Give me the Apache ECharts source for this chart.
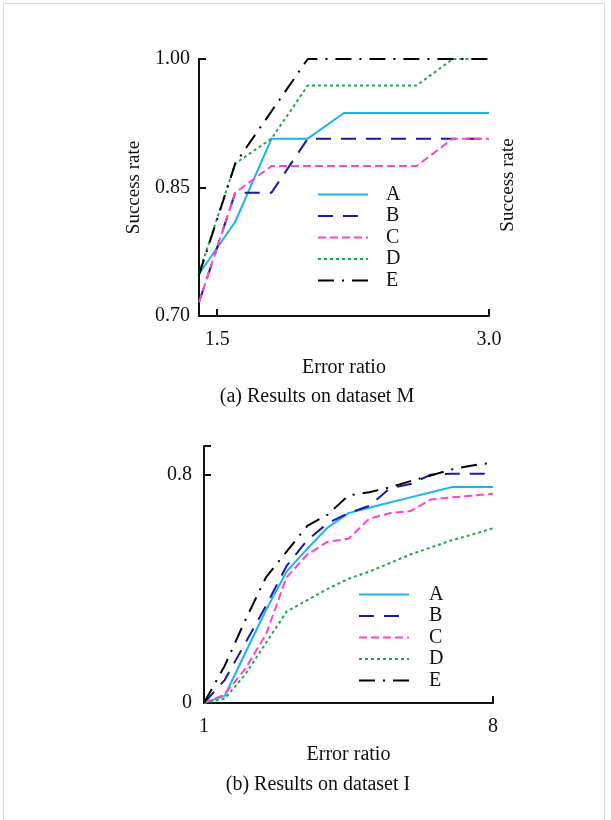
<!DOCTYPE html>
<html>
<head>
<meta charset="utf-8">
<script src="https://cdn.jsdelivr.net/npm/echarts@6/dist/echarts.min.js"></script>
<style>
  html, body { margin: 0; padding: 0; background: #fff; }
  #chart { width: 611px; height: 820px; }
</style>
</head>
<body>
<div id="chart"></div>
<script>
// (a) dataset M
const xTop = [1.4, 1.6, 1.8, 2.0, 2.2, 2.4, 2.6, 2.8, 3.0]
const aTop = [0.749, 0.810, 0.907, 0.907, 0.937, 0.937, 0.937, 0.937, 0.937]
const bTop = [0.716, 0.844, 0.844, 0.907, 0.907, 0.907, 0.907, 0.907, 0.907]
const cTop = [0.716, 0.844, 0.875, 0.875, 0.875, 0.875, 0.875, 0.907, 0.907]
const dTop = [0.750, 0.878, 0.907, 0.969, 0.969, 0.969, 0.969, 1.000, 1.000]
const eTop = [0.748, 0.878, 0.939, 1.000, 1.000, 1.000, 1.000, 1.000, 1.000]
const xTicksTop = [1.5, 3.0]
const yTicksTop = [0.70, 0.85, 1.00]

// (b) dataset I
const xBot = [1, 1.5, 2, 2.5, 3, 3.5, 4, 4.5, 5, 5.5, 6, 6.5, 7, 7.5, 8]
const aBot = [0, 0.025, 0.175, 0.325, 0.46, 0.54, 0.615, 0.665, 0.684, 0.702, 0.72, 0.738, 0.756, 0.756, 0.756]
const bBot = [0, 0.08, 0.21, 0.34, 0.48, 0.57, 0.63, 0.665, 0.69, 0.752, 0.767, 0.80, 0.803, 0.803, 0.803]
const cBot = [0, 0.03, 0.12, 0.24, 0.44, 0.52, 0.565, 0.575, 0.645, 0.665, 0.672, 0.713, 0.72, 0.726, 0.733]
const dBot = [0, 0.015, 0.10, 0.21, 0.32, 0.36, 0.40, 0.435, 0.46, 0.49, 0.52, 0.545, 0.57, 0.59, 0.612]
const eBot = [0, 0.13, 0.29, 0.44, 0.53, 0.62, 0.66, 0.727, 0.738, 0.755, 0.777, 0.797, 0.818, 0.832, 0.842]
const xTicksBot = [1, 8]
const yLabelsBot = [0, 0.8]
const yTicksBot = [0.8, 0.9]

const names = ['A', 'B', 'C', 'D', 'E']

const FONT = 'Liberation Serif'
const INK = '#111'

// 线型
const styles = {
  A: { color: '#1cb3ee', type: 'solid' },
  B: { color: '#1a1aa8', type: [15, 10] },
  C: { color: '#ff45cc', type: [8, 4] },
  D: { color: '#1caa4e', type: [3, 3] },
  E: { color: '#000000', type: [16, 8, 2, 8] }
}

const zip = (xs, ys) => xs.map((x, i) => [x, ys[i]])

const mkSeries = (name, xs, ys, idx) => ({
  name: name,
  type: 'line',
  xAxisIndex: idx,
  yAxisIndex: idx,
  symbol: 'none',
  animation: false,
  data: zip(xs, ys),
  lineStyle: { color: styles[name].color, width: 2, type: styles[name].type },
  itemStyle: { color: styles[name].color }
})

const axisLine = { show: true, onZero: false, lineStyle: { color: INK, width: 2 } }
const tick = (vals) => ({ show: true, inside: true, length: 7, customValues: vals, lineStyle: { color: INK, width: 2 } })

const legendBase = {
  data: names, orient: 'vertical', padding: 0,
  itemWidth: 50, itemHeight: 14, itemGap: 0.5,
  itemStyle: { opacity: 0 }
}

const chart = echarts.init(document.getElementById('chart'))

chart.setOption({
  backgroundColor: '#ffffff',
  textStyle: { fontFamily: FONT },
  grid: [
    { left: 199, top: 59, width: 290, height: 257 },
    { left: 204, top: 446, width: 289, height: 257 }
  ],
  xAxis: [
    {
      type: 'value', gridIndex: 0, min: 1.4, max: 3.0,
      axisLine: axisLine, axisTick: tick(xTicksTop), splitLine: { show: false },
      axisLabel: { customValues: xTicksTop, margin: 14, fontSize: 20, color: INK, fontFamily: FONT, formatter: v => v.toFixed(1) },
      name: 'Error ratio', nameLocation: 'middle', nameGap: 42,
      nameTextStyle: { fontSize: 20, color: INK, fontFamily: FONT }
    },
    {
      type: 'value', gridIndex: 1, min: 1, max: 8,
      axisLine: axisLine, axisTick: tick([8]), splitLine: { show: false },
      axisLabel: { customValues: xTicksBot, margin: 14, fontSize: 20, color: INK, fontFamily: FONT },
      name: 'Error ratio', nameLocation: 'middle', nameGap: 42,
      nameTextStyle: { fontSize: 20, color: INK, fontFamily: FONT }
    }
  ],
  yAxis: [
    {
      type: 'value', gridIndex: 0, min: 0.7, max: 1.0,
      axisLine: axisLine, axisTick: tick(yTicksTop), splitLine: { show: false },
      axisLabel: { customValues: yTicksTop, margin: 9, fontSize: 20, color: INK, fontFamily: FONT, formatter: v => v.toFixed(2) },
      name: 'Success rate', nameLocation: 'middle', nameGap: 55, nameRotate: 90,
      nameTextStyle: { fontSize: 19, color: INK, fontFamily: FONT }
    },
    {
      type: 'value', gridIndex: 1, min: 0, max: 0.9,
      axisLine: axisLine, axisTick: tick(yTicksBot), splitLine: { show: false },
      axisLabel: { customValues: yLabelsBot, margin: 12, fontSize: 20, color: INK, fontFamily: FONT }
    }
  ],
  legend: [
    Object.assign({}, legendBase, {
      left: 317, top: 184,
      textStyle: { fontSize: 20, lineHeight: 21, color: INK, fontFamily: FONT, padding: [0, 0, 0, 13] }
    }),
    Object.assign({}, legendBase, {
      left: 358, top: 584,
      textStyle: { fontSize: 20, lineHeight: 21, color: INK, fontFamily: FONT, padding: [0, 0, 0, 15] }
    })
  ],
  graphic: [
    { type: 'rect', silent: true, shape: { x: 3.5, y: 3.5, width: 601, height: 840 }, style: { fill: 'none', stroke: '#d8d8d8', lineWidth: 1 } },
    { type: 'text', x: 508, y: 185, rotation: Math.PI / 2, style: { text: 'Success rate', font: '19px "Liberation Serif"', fill: INK, align: 'center', verticalAlign: 'middle' } },
    { type: 'text', x: 317, y: 397, style: { text: '(a) Results on dataset M', font: '20px "Liberation Serif"', fill: INK, align: 'center', verticalAlign: 'middle' } },
    { type: 'text', x: 318, y: 785, style: { text: '(b) Results on dataset I', font: '20px "Liberation Serif"', fill: INK, align: 'center', verticalAlign: 'middle' } }
  ],
  series: [
    mkSeries('A', xTop, aTop, 0),
    mkSeries('B', xTop, bTop, 0),
    mkSeries('C', xTop, cTop, 0),
    mkSeries('D', xTop, dTop, 0),
    mkSeries('E', xTop, eTop, 0),
    mkSeries('A', xBot, aBot, 1),
    mkSeries('B', xBot, bBot, 1),
    mkSeries('C', xBot, cBot, 1),
    mkSeries('D', xBot, dBot, 1),
    mkSeries('E', xBot, eBot, 1)
  ]
})
</script>
</body>
</html>
